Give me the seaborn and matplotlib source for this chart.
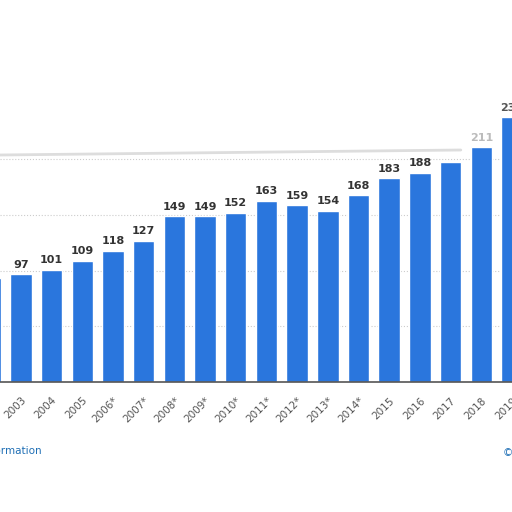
import matplotlib
matplotlib.use("Agg")
import matplotlib.pyplot as plt
import seaborn as sns
import pandas as pd

# Data
years = ["2002", "2003", "2004", "2005", "2006*", "2007*", "2008*", "2009*", "2010*",
         "2011*", "2012*", "2013*", "2014*", "2015", "2016", "2017", "2018", "2019"]
values = [93, 97, 101, 109, 118, 127, 149, 149, 152, 163, 159, 154, 168, 183, 188, 198, 211, 238]

df = pd.DataFrame({"year": years, "value": values})

sns.set_theme(style="white")
plt.rcParams["font.family"] = ["DejaVu Sans"]

fig = plt.figure(figsize=(5.12, 5.12), dpi=100)
ax = fig.add_axes([0, 1 - 382 / 512, 1, 382 / 512])

sns.barplot(data=df, x="year", y="value", color="#2a76dd", width=0.7, ax=ax, saturation=1)

ax.set_xlim(0.32, 17.0)
ax.set_ylim(0, 382 / 1.113)
ax.set_yticks([50, 100, 150, 200])
ax.yaxis.grid(True, linestyle=":", color="#cccccc", linewidth=0.8)
ax.set_axisbelow(True)
ax.tick_params(axis="y", left=False, labelleft=False)
for s in ["top", "right", "left"]:
    ax.spines[s].set_visible(False)
ax.spines["bottom"].set_color("#555555")
ax.spines["bottom"].set_linewidth(1.2)
ax.set_xlabel("")
ax.set_ylabel("")
plt.setp(ax.get_xticklabels(), rotation=45, ha="right", rotation_mode="anchor",
         fontsize=7.5, color="#555555")

for i, v in enumerate(values):
    if i in (0, 15, 16, 17):
        continue
    ax.text(i, v + 4, str(v), ha="center", va="bottom", fontsize=8,
            fontweight="bold", color="#333333")
ax.text(16, values[16] + 4, "211", ha="center", va="bottom", fontsize=8,
        fontweight="bold", color="#bbbbbb")
ax.text(17, values[17] + 4, "238", ha="center", va="bottom", fontsize=8,
        fontweight="bold", color="#555555")

# Light frame line across the plot (screenshot overlay edge)
fig.add_artist(plt.Line2D([0, 0.9], [1 - 155 / 512, 1 - 150 / 512], color="#dddddd", linewidth=2))

fig.text(42 / 512, 1 - 451 / 512, "Additional Information", ha="right", va="center",
         fontsize=7.5, color="#1f6fb5")
fig.text(503 / 512, 1 - 453 / 512, "©", ha="left", va="center", fontsize=7.5, color="#1f6fb5")

fig.savefig("out.png", dpi=100)
